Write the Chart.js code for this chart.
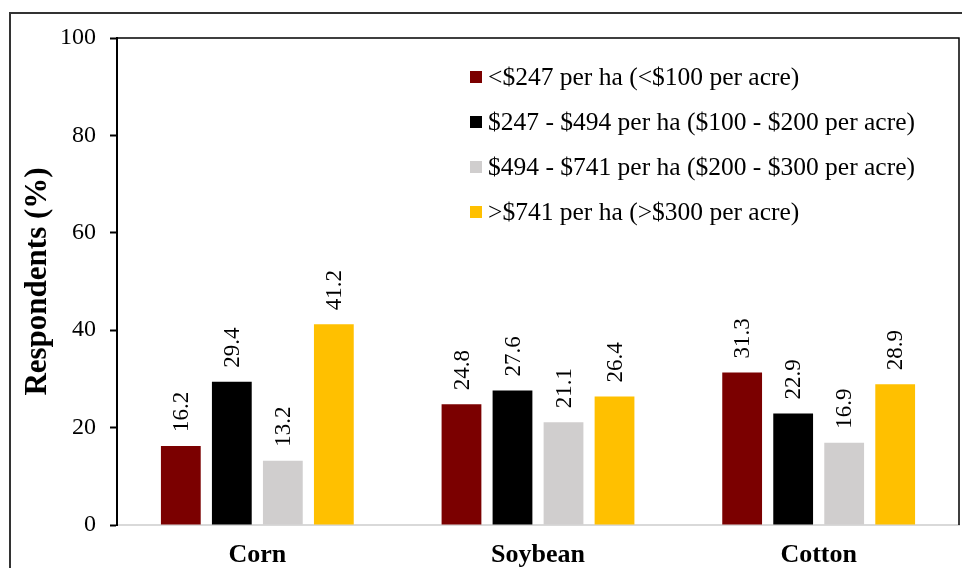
<!DOCTYPE html>
<html>
<head>
<meta charset="utf-8">
<script src="https://cdn.jsdelivr.net/npm/chart.js@4"></script>
<style>
html,body{margin:0;padding:0;background:#fff;}
#wrap{width:962px;height:568px;position:relative;}
</style>
</head>
<body>
<div id="wrap"><canvas id="c" width="962" height="568"></canvas></div>
<script>
const categories = ['Corn', 'Soybean', 'Cotton'];
const seriesLabels = [
  '<$247 per ha (<$100 per acre)',
  '$247 - $494 per ha ($100 - $200 per acre)',
  '$494 - $741 per ha ($200 - $300 per acre)',
  '>$741 per ha (>$300 per acre)'
];
const under247 = [16.2, 24.8, 31.3];
const from247to494 = [29.4, 27.6, 22.9];
const from494to741 = [13.2, 21.1, 16.9];
const over741 = [41.2, 26.4, 28.9];
const yTicks = [0, 20, 40, 60, 80, 100];
const colors = ['#7B0000', '#000000', '#D0CECE', '#FFC000'];

const FONT = '"Liberation Serif", "Times New Roman", serif';

const valueLabels = {
  id: 'valueLabels',
  afterDatasetsDraw(chart) {
    const ctx = chart.ctx;
    ctx.save();
    ctx.font = '23px ' + FONT;
    ctx.fillStyle = '#000';
    ctx.textAlign = 'left';
    ctx.textBaseline = 'middle';
    chart.data.datasets.forEach((ds, i) => {
      const meta = chart.getDatasetMeta(i);
      meta.data.forEach((bar, j) => {
        ctx.save();
        ctx.translate(bar.x, bar.y - 14);
        ctx.rotate(-Math.PI / 2);
        ctx.fillText(ds.data[j].toFixed(1), 0, 1);
        ctx.restore();
      });
    });
    ctx.restore();
  }
};

const frame = {
  id: 'frame',
  afterDraw(chart) {
    const ctx = chart.ctx;
    const a = chart.chartArea;
    ctx.save();
    ctx.strokeStyle = '#000';
    ctx.lineWidth = 1.5;
    ctx.beginPath();
    ctx.moveTo(a.left, a.top);
    ctx.lineTo(a.right, a.top);
    ctx.lineTo(a.right, a.bottom);
    ctx.stroke();
    ctx.strokeStyle = '#333';
    ctx.lineWidth = 2;
    ctx.strokeRect(10, 13, 1000, 1000);
    ctx.restore();
  }
};

const legendBox = {
  id: 'legendBox',
  afterDraw(chart) {
    const ctx = chart.ctx;
    ctx.save();
    ctx.font = '25.5px ' + FONT;
    ctx.textBaseline = 'middle';
    ctx.textAlign = 'left';
    chart.data.datasets.forEach((ds, i) => {
      const y = 77 + i * 45;
      ctx.fillStyle = ds.backgroundColor;
      ctx.fillRect(470, y - 6, 12, 12);
      ctx.fillStyle = '#000';
      ctx.fillText(ds.label, 488, y + 1);
    });
    ctx.restore();
  }
};

const seriesData = [under247, from247to494, from494to741, over741];

new Chart(document.getElementById('c'), {
  type: 'bar',
  data: {
    labels: categories,
    datasets: seriesData.map((d, i) => ({
      label: seriesLabels[i],
      data: d,
      backgroundColor: colors[i],
      borderWidth: 0,
      categoryPercentage: 0.727,
      barPercentage: 0.78
    }))
  },
  options: {
    responsive: false,
    animation: false,
    devicePixelRatio: 1,
    layout: { padding: { left: 0, top: 38, right: 3, bottom: 0 } },
    plugins: {
      legend: { display: false },
      tooltip: { enabled: false },
      title: { display: false }
    },
    scales: {
      x: {
        grid: { display: false, drawTicks: false },
        border: { display: true, color: '#D9D9D9', width: 2 },
        ticks: { color: '#000', font: { family: FONT, size: 26, weight: 'bold' }, padding: 15 },
        afterFit(s) { s.height = 43; }
      },
      y: {
        min: 0, max: 100,
        afterBuildTicks(s) { s.ticks = yTicks.map(v => ({ value: v })); },
        grid: { drawOnChartArea: false, drawTicks: true, tickLength: 7, tickColor: '#000', tickWidth: 2 },
        border: { display: true, color: '#000', width: 2 },
        ticks: { color: '#000', font: { family: FONT, size: 24 }, padding: 14 },
        title: {
          display: true, text: 'Respondents (%)', color: '#000',
          font: { family: FONT, size: 31, weight: 'bold' },
          padding: { top: 19, bottom: 0 }
        },
        afterFit(s) { s.width = 117; }
      }
    }
  },
  plugins: [valueLabels, frame, legendBox]
});
</script>
</body>
</html>
